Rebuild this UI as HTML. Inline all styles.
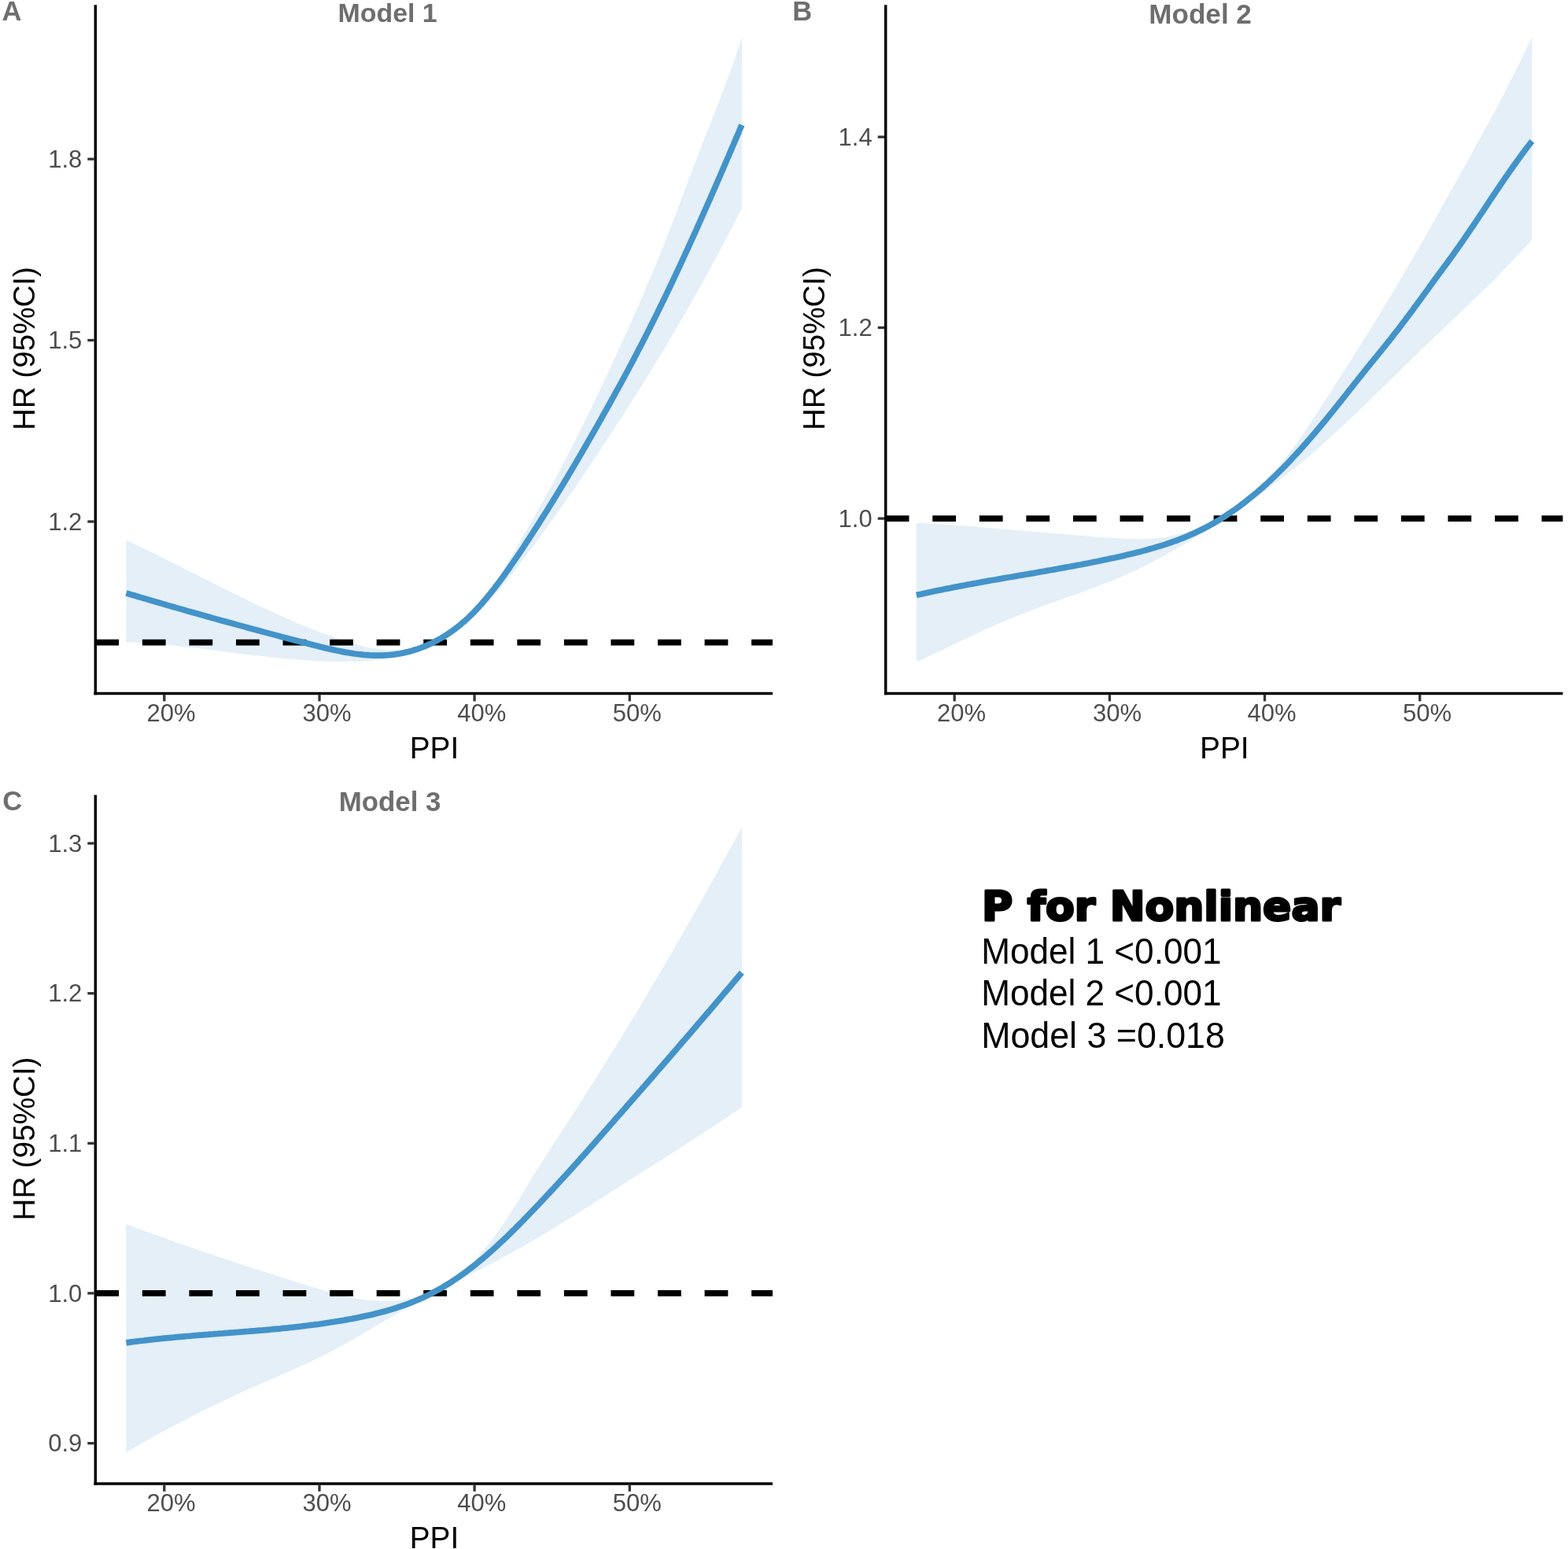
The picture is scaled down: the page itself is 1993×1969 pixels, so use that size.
<!DOCTYPE html>
<html><head><meta charset="utf-8"><title>RCS plots</title>
<style>
html,body{margin:0;padding:0;background:#fff;}
svg{display:block;}
text{font-family:"Liberation Sans",Arial,sans-serif;}
</style></head><body>
<svg xmlns="http://www.w3.org/2000/svg" width="1993" height="1969" viewBox="0 0 1993 1969">
<rect width="1993" height="1969" fill="#fff"/>

<path d="M160.4 686.6 L164.4 688.5 L168.4 690.3 L172.4 692.2 L176.3 694.1 L180.3 696.0 L184.2 697.9 L188.1 699.8 L192.1 701.7 L196.0 703.6 L199.9 705.5 L203.8 707.4 L207.7 709.3 L211.6 711.3 L215.4 713.2 L219.3 715.2 L223.2 717.1 L227.0 719.0 L230.9 721.0 L234.7 722.9 L238.6 724.9 L242.4 726.8 L246.3 728.8 L250.1 730.7 L254.0 732.7 L257.8 734.6 L261.6 736.6 L265.5 738.5 L269.3 740.4 L273.1 742.4 L277.0 744.3 L280.8 746.2 L284.6 748.2 L288.5 750.1 L292.3 752.0 L296.2 753.9 L300.0 755.8 L303.9 757.7 L307.7 759.6 L311.6 761.5 L315.4 763.4 L319.3 765.2 L323.2 767.1 L327.0 769.0 L330.9 770.8 L334.8 772.6 L338.7 774.5 L342.6 776.3 L346.6 778.1 L350.5 779.9 L354.4 781.6 L358.4 783.4 L362.3 785.1 L366.3 786.9 L370.2 788.6 L374.2 790.3 L378.2 792.0 L382.2 793.7 L386.3 795.4 L390.3 797.0 L394.3 798.7 L398.4 800.3 L402.5 801.9 L406.6 803.5 L410.7 805.0 L414.8 806.6 L418.9 808.1 L423.1 809.6 L427.3 811.1 L431.4 812.5 L435.6 814.0 L439.8 815.3 L444.0 816.6 L448.3 817.9 L452.5 819.1 L456.7 820.2 L460.9 821.3 L465.2 822.3 L469.4 823.2 L473.6 823.9 L477.9 824.6 L482.1 825.2 L486.3 825.7 L490.5 826.0 L494.7 826.3 L498.9 826.4 L503.0 826.3 L507.2 826.1 L511.3 825.8 L515.5 825.3 L519.6 824.7 L523.6 823.8 L527.7 822.8 L531.7 821.7 L535.7 820.4 L539.7 819.0 L543.6 817.4 L547.5 815.6 L551.4 813.8 L555.2 811.8 L559.0 809.7 L562.7 807.4 L566.4 805.1 L570.1 802.7 L573.7 800.1 L577.2 797.5 L580.7 794.8 L584.1 792.0 L587.4 789.1 L590.7 786.1 L594.0 783.1 L597.1 780.0 L600.2 776.8 L603.2 773.6 L606.1 770.3 L609.0 767.0 L611.8 763.7 L614.6 760.3 L617.3 756.9 L619.9 753.4 L622.5 749.9 L625.0 746.3 L627.5 742.8 L630.0 739.2 L632.4 735.5 L634.8 731.9 L637.1 728.2 L639.5 724.5 L641.8 720.8 L644.0 717.1 L646.3 713.4 L648.5 709.7 L650.8 705.9 L653.0 702.2 L655.2 698.5 L657.4 694.7 L659.6 691.0 L661.8 687.2 L663.9 683.5 L666.1 679.8 L668.3 676.0 L670.4 672.3 L672.6 668.5 L674.7 664.8 L676.9 661.0 L679.0 657.2 L681.1 653.5 L683.2 649.7 L685.3 645.9 L687.4 642.2 L689.5 638.4 L691.6 634.6 L693.7 630.8 L695.7 627.1 L697.8 623.3 L699.9 619.5 L701.9 615.7 L704.0 611.9 L706.0 608.1 L708.0 604.3 L710.0 600.5 L712.1 596.7 L714.1 592.8 L716.1 589.0 L718.1 585.2 L720.1 581.4 L722.0 577.5 L724.0 573.7 L726.0 569.8 L728.0 566.0 L729.9 562.1 L731.9 558.3 L733.8 554.4 L735.8 550.5 L737.7 546.7 L739.6 542.8 L741.6 538.9 L743.5 535.0 L745.4 531.1 L747.3 527.3 L749.2 523.4 L751.1 519.5 L753.0 515.6 L754.9 511.7 L756.7 507.8 L758.6 503.8 L760.5 499.9 L762.4 496.0 L764.2 492.1 L766.1 488.2 L767.9 484.3 L769.8 480.3 L771.6 476.4 L773.4 472.5 L775.3 468.6 L777.1 464.6 L778.9 460.7 L780.7 456.8 L782.6 452.8 L784.4 448.9 L786.2 444.9 L788.0 441.0 L789.8 437.1 L791.6 433.1 L793.4 429.2 L795.1 425.2 L796.9 421.3 L798.7 417.3 L800.5 413.4 L802.2 409.4 L804.0 405.5 L805.7 401.5 L807.5 397.6 L809.2 393.6 L811.0 389.6 L812.7 385.7 L814.4 381.7 L816.2 377.7 L817.9 373.8 L819.6 369.8 L821.3 365.8 L823.0 361.9 L824.7 357.9 L826.3 353.9 L828.0 349.9 L829.7 345.9 L831.3 341.9 L833.0 337.9 L834.6 333.9 L836.3 329.9 L837.9 325.9 L839.5 321.9 L841.1 317.9 L842.7 313.9 L844.3 309.9 L845.9 305.9 L847.5 301.8 L849.1 297.8 L850.6 293.8 L852.2 289.7 L853.7 285.7 L855.3 281.7 L856.8 277.6 L858.4 273.6 L859.9 269.5 L861.4 265.5 L863.0 261.4 L864.5 257.4 L866.0 253.3 L867.5 249.3 L869.0 245.2 L870.6 241.2 L872.1 237.1 L873.6 233.1 L875.1 229.0 L876.6 225.0 L878.2 220.9 L879.7 216.9 L881.2 212.8 L882.8 208.8 L884.3 204.8 L885.8 200.7 L887.4 196.7 L888.9 192.6 L890.5 188.6 L892.1 184.6 L893.6 180.5 L895.2 176.5 L896.8 172.5 L898.4 168.5 L900.0 164.4 L901.6 160.4 L903.2 156.4 L904.7 152.4 L906.3 148.3 L907.9 144.3 L909.5 140.3 L911.1 136.3 L912.6 132.2 L914.2 128.2 L915.8 124.2 L917.3 120.1 L918.9 116.1 L920.4 112.0 L921.9 108.0 L923.4 103.9 L924.9 99.9 L926.4 95.8 L927.9 91.7 L929.4 87.7 L930.8 83.6 L932.2 79.5 L933.6 75.4 L935.0 71.3 L936.4 67.2 L937.7 63.1 L939.1 58.9 L940.4 54.8 L941.6 50.7 L942.9 46.5 L942.9 264.6 L941.3 267.8 L939.7 271.1 L938.0 274.3 L936.4 277.5 L934.7 280.7 L933.1 284.0 L931.5 287.2 L929.8 290.4 L928.1 293.6 L926.5 296.8 L924.8 300.0 L923.1 303.2 L921.4 306.4 L919.8 309.6 L918.1 312.8 L916.4 316.0 L914.7 319.2 L913.0 322.4 L911.3 325.6 L909.6 328.8 L907.8 332.0 L906.1 335.1 L904.4 338.3 L902.7 341.5 L900.9 344.7 L899.2 347.9 L897.5 351.0 L895.7 354.2 L894.0 357.4 L892.2 360.5 L890.4 363.7 L888.7 366.8 L886.9 370.0 L885.1 373.2 L883.4 376.3 L881.6 379.5 L879.8 382.6 L878.0 385.8 L876.2 388.9 L874.4 392.0 L872.6 395.2 L870.8 398.3 L869.0 401.5 L867.2 404.6 L865.4 407.7 L863.5 410.8 L861.7 414.0 L859.9 417.1 L858.1 420.2 L856.2 423.3 L854.4 426.4 L852.5 429.6 L850.7 432.7 L848.8 435.8 L847.0 438.9 L845.1 442.0 L843.3 445.1 L841.4 448.2 L839.5 451.3 L837.6 454.4 L835.8 457.5 L833.9 460.6 L832.0 463.7 L830.1 466.7 L828.2 469.8 L826.3 472.9 L824.4 476.0 L822.5 479.1 L820.6 482.1 L818.7 485.2 L816.8 488.3 L814.9 491.3 L813.0 494.4 L811.1 497.5 L809.1 500.5 L807.2 503.6 L805.3 506.6 L803.3 509.7 L801.4 512.8 L799.5 515.8 L797.5 518.8 L795.6 521.9 L793.6 524.9 L791.7 528.0 L789.7 531.0 L787.8 534.0 L785.8 537.1 L783.8 540.1 L781.9 543.1 L779.9 546.2 L777.9 549.2 L776.0 552.2 L774.0 555.2 L772.0 558.2 L770.0 561.2 L768.0 564.3 L766.0 567.3 L764.1 570.3 L762.1 573.3 L760.1 576.3 L758.1 579.3 L756.1 582.3 L754.1 585.3 L752.1 588.2 L750.1 591.2 L748.0 594.2 L746.0 597.2 L744.0 600.2 L742.0 603.2 L740.0 606.1 L738.0 609.1 L735.9 612.1 L733.9 615.1 L731.9 618.0 L729.8 621.0 L727.8 624.0 L725.8 626.9 L723.7 629.9 L721.7 632.8 L719.6 635.8 L717.6 638.7 L715.5 641.7 L713.5 644.6 L711.4 647.6 L709.3 650.5 L707.2 653.5 L705.2 656.4 L703.1 659.3 L701.0 662.3 L698.9 665.2 L696.8 668.1 L694.7 671.1 L692.6 674.0 L690.4 676.9 L688.3 679.8 L686.2 682.8 L684.0 685.7 L681.9 688.6 L679.7 691.5 L677.6 694.4 L675.4 697.3 L673.2 700.2 L671.0 703.1 L668.8 706.0 L666.6 708.9 L664.4 711.8 L662.2 714.7 L659.9 717.6 L657.7 720.5 L655.4 723.4 L653.2 726.3 L650.9 729.2 L648.6 732.1 L646.3 735.0 L644.0 737.8 L641.7 740.7 L639.4 743.6 L637.0 746.4 L634.6 749.3 L632.3 752.1 L629.9 754.9 L627.5 757.7 L625.1 760.4 L622.6 763.2 L620.2 765.9 L617.7 768.6 L615.2 771.3 L612.7 773.9 L610.1 776.5 L607.6 779.1 L605.0 781.7 L602.4 784.2 L599.7 786.6 L597.1 789.1 L594.4 791.5 L591.7 793.8 L589.0 796.1 L586.2 798.4 L583.4 800.6 L580.6 802.7 L577.8 804.8 L574.9 806.9 L572.0 808.9 L569.0 810.8 L566.1 812.7 L563.1 814.5 L560.0 816.3 L557.0 818.0 L553.9 819.6 L550.7 821.2 L547.6 822.7 L544.4 824.1 L541.1 825.4 L537.8 826.7 L534.5 827.9 L531.2 829.0 L527.8 830.1 L524.4 831.1 L521.0 832.1 L517.5 832.9 L514.0 833.8 L510.5 834.5 L507.0 835.3 L503.4 835.9 L499.9 836.5 L496.3 837.1 L492.7 837.6 L489.1 838.1 L485.4 838.5 L481.8 838.9 L478.1 839.2 L474.5 839.5 L470.8 839.8 L467.2 840.0 L463.5 840.2 L459.8 840.4 L456.1 840.5 L452.5 840.7 L448.8 840.8 L445.1 840.8 L441.5 840.9 L437.8 840.9 L434.2 840.9 L430.5 840.9 L426.9 840.8 L423.2 840.8 L419.6 840.7 L415.9 840.6 L412.3 840.5 L408.7 840.3 L405.1 840.2 L401.4 840.0 L397.8 839.8 L394.2 839.6 L390.6 839.4 L387.0 839.2 L383.3 838.9 L379.7 838.6 L376.1 838.4 L372.5 838.1 L368.9 837.8 L365.3 837.4 L361.7 837.1 L358.1 836.8 L354.5 836.4 L350.9 836.1 L347.3 835.7 L343.7 835.3 L340.2 834.9 L336.6 834.5 L333.0 834.1 L329.4 833.7 L325.8 833.3 L322.2 832.9 L318.6 832.4 L315.1 832.0 L311.5 831.6 L307.9 831.1 L304.3 830.7 L300.7 830.2 L297.2 829.8 L293.6 829.3 L290.0 828.9 L286.4 828.4 L282.8 828.0 L279.2 827.5 L275.7 827.1 L272.1 826.6 L268.5 826.2 L264.9 825.7 L261.3 825.3 L257.8 824.8 L254.2 824.4 L250.6 824.0 L247.0 823.5 L243.4 823.1 L239.8 822.7 L236.2 822.3 L232.6 821.9 L229.0 821.5 L225.5 821.1 L221.9 820.7 L218.3 820.3 L214.7 820.0 L211.1 819.6 L207.5 819.3 L203.9 818.9 L200.2 818.6 L196.6 818.3 L193.0 818.0 L189.4 817.7 L185.8 817.5 L182.2 817.2 L178.6 817.0 L174.9 816.7 L171.3 816.5 L167.7 816.3 L164.0 816.2 L160.4 816.0 Z" fill="#e4eff8" stroke="none"/>
<line x1="121.3" y1="816.6" x2="982.0" y2="816.6" stroke="#000" stroke-width="7.7" stroke-dasharray="29.78 29.78"/>
<path d="M160.4 753.9 L164.3 755.1 L168.1 756.2 L172.0 757.3 L175.8 758.5 L179.6 759.6 L183.5 760.7 L187.3 761.9 L191.1 763.0 L194.9 764.1 L198.7 765.2 L202.5 766.3 L206.3 767.4 L210.1 768.5 L213.8 769.6 L217.6 770.7 L221.4 771.8 L225.2 772.9 L228.9 773.9 L232.7 775.0 L236.4 776.1 L240.2 777.2 L244.0 778.2 L247.7 779.3 L251.5 780.3 L255.2 781.4 L259.0 782.4 L262.7 783.5 L266.5 784.5 L270.2 785.6 L274.0 786.6 L277.7 787.7 L281.4 788.7 L285.2 789.7 L288.9 790.8 L292.7 791.8 L296.5 792.8 L300.2 793.9 L304.0 794.9 L307.7 795.9 L311.5 796.9 L315.3 798.0 L319.0 799.0 L322.8 800.0 L326.6 801.0 L330.4 802.0 L334.2 803.1 L338.0 804.1 L341.8 805.1 L345.6 806.1 L349.4 807.1 L353.2 808.1 L357.0 809.2 L360.9 810.2 L364.7 811.2 L368.6 812.2 L372.4 813.2 L376.3 814.2 L380.2 815.2 L384.0 816.3 L387.9 817.3 L391.8 818.3 L395.7 819.3 L399.7 820.3 L403.6 821.3 L407.5 822.3 L411.4 823.2 L415.4 824.2 L419.3 825.1 L423.3 825.9 L427.2 826.8 L431.1 827.6 L435.1 828.4 L439.0 829.1 L443.0 829.8 L446.9 830.4 L450.8 831.0 L454.8 831.5 L458.7 831.9 L462.6 832.3 L466.5 832.6 L470.4 832.9 L474.3 833.1 L478.2 833.2 L482.1 833.2 L485.9 833.1 L489.8 832.9 L493.6 832.7 L497.4 832.3 L501.2 831.9 L505.0 831.3 L508.8 830.7 L512.6 830.0 L516.3 829.1 L520.0 828.2 L523.7 827.2 L527.4 826.0 L531.1 824.8 L534.7 823.5 L538.3 822.1 L541.9 820.7 L545.4 819.1 L548.9 817.5 L552.4 815.7 L555.8 813.9 L559.2 812.0 L562.6 810.1 L565.9 808.0 L569.2 805.9 L572.4 803.7 L575.6 801.5 L578.8 799.1 L581.9 796.7 L584.9 794.3 L587.9 791.7 L590.9 789.2 L593.8 786.5 L596.7 783.8 L599.5 781.0 L602.3 778.2 L605.0 775.3 L607.7 772.4 L610.4 769.5 L613.0 766.5 L615.6 763.5 L618.2 760.5 L620.7 757.4 L623.2 754.3 L625.7 751.2 L628.2 748.1 L630.6 744.9 L633.0 741.7 L635.4 738.6 L637.7 735.4 L640.1 732.2 L642.4 728.9 L644.7 725.7 L647.0 722.5 L649.2 719.2 L651.5 715.9 L653.7 712.7 L656.0 709.4 L658.2 706.1 L660.4 702.8 L662.6 699.6 L664.8 696.3 L666.9 693.0 L669.1 689.7 L671.3 686.4 L673.4 683.1 L675.6 679.8 L677.7 676.5 L679.9 673.2 L682.0 669.9 L684.1 666.6 L686.2 663.2 L688.3 659.9 L690.4 656.6 L692.5 653.3 L694.6 649.9 L696.7 646.6 L698.7 643.3 L700.8 639.9 L702.9 636.6 L704.9 633.3 L707.0 629.9 L709.0 626.6 L711.0 623.2 L713.1 619.9 L715.1 616.5 L717.1 613.2 L719.1 609.8 L721.2 606.4 L723.2 603.1 L725.2 599.7 L727.2 596.3 L729.2 592.9 L731.1 589.6 L733.1 586.2 L735.1 582.8 L737.1 579.4 L739.1 576.0 L741.0 572.6 L743.0 569.2 L745.0 565.8 L746.9 562.4 L748.9 559.0 L750.9 555.6 L752.8 552.2 L754.8 548.8 L756.7 545.4 L758.7 542.0 L760.6 538.5 L762.5 535.1 L764.5 531.7 L766.4 528.2 L768.3 524.8 L770.3 521.4 L772.2 517.9 L774.1 514.5 L776.0 511.1 L777.9 507.6 L779.8 504.2 L781.7 500.7 L783.6 497.2 L785.5 493.8 L787.4 490.3 L789.3 486.9 L791.2 483.4 L793.1 479.9 L794.9 476.5 L796.8 473.0 L798.7 469.5 L800.5 466.0 L802.4 462.5 L804.2 459.1 L806.1 455.6 L807.9 452.1 L809.7 448.6 L811.5 445.1 L813.3 441.6 L815.2 438.1 L817.0 434.6 L818.8 431.1 L820.5 427.6 L822.3 424.0 L824.1 420.5 L825.9 417.0 L827.6 413.5 L829.4 410.0 L831.2 406.4 L832.9 402.9 L834.7 399.4 L836.4 395.8 L838.1 392.3 L839.9 388.8 L841.6 385.2 L843.3 381.7 L845.0 378.2 L846.7 374.6 L848.4 371.1 L850.1 367.5 L851.8 364.0 L853.5 360.4 L855.2 356.8 L856.9 353.3 L858.6 349.7 L860.2 346.2 L861.9 342.6 L863.6 339.0 L865.2 335.5 L866.9 331.9 L868.5 328.3 L870.2 324.7 L871.8 321.2 L873.4 317.6 L875.1 314.0 L876.7 310.4 L878.3 306.8 L880.0 303.2 L881.6 299.7 L883.2 296.1 L884.8 292.5 L886.4 288.9 L888.0 285.3 L889.6 281.7 L891.2 278.1 L892.8 274.5 L894.4 270.9 L896.0 267.3 L897.6 263.7 L899.2 260.1 L900.8 256.5 L902.4 252.9 L904.0 249.3 L905.5 245.7 L907.1 242.1 L908.7 238.5 L910.3 234.9 L911.8 231.2 L913.4 227.6 L915.0 224.0 L916.5 220.4 L918.1 216.8 L919.6 213.2 L921.2 209.5 L922.8 205.9 L924.3 202.3 L925.9 198.7 L927.4 195.1 L929.0 191.4 L930.5 187.8 L932.1 184.2 L933.6 180.6 L935.2 176.9 L936.7 173.3 L938.3 169.7 L939.8 166.1 L941.3 162.4 L942.9 158.8" fill="none" stroke="#4393c9" stroke-width="7.7" stroke-linejoin="round"/>
<line x1="121.3" y1="6.2" x2="121.3" y2="883.2" stroke="#000" stroke-width="3.5"/>
<line x1="119.5" y1="881.5" x2="982.0" y2="881.5" stroke="#000" stroke-width="3.5"/>
<line x1="111.3" y1="202.2" x2="119.7" y2="202.2" stroke="#333" stroke-width="3.3"/>
<text x="104.3" y="212.8" font-size="31" fill="#4d4d4d" text-anchor="end">1.8</text>
<line x1="111.3" y1="432.5" x2="119.7" y2="432.5" stroke="#333" stroke-width="3.3"/>
<text x="104.3" y="443.1" font-size="31" fill="#4d4d4d" text-anchor="end">1.5</text>
<line x1="111.3" y1="663.0" x2="119.7" y2="663.0" stroke="#333" stroke-width="3.3"/>
<text x="104.3" y="673.6" font-size="31" fill="#4d4d4d" text-anchor="end">1.2</text>
<line x1="208.8" y1="883.1" x2="208.8" y2="891.4" stroke="#333" stroke-width="3.3"/>
<text x="186.6" y="916.5" font-size="31" fill="#4d4d4d">20%</text>
<line x1="406.0" y1="883.1" x2="406.0" y2="891.4" stroke="#333" stroke-width="3.3"/>
<text x="384.6" y="916.5" font-size="31" fill="#4d4d4d">30%</text>
<line x1="603.1" y1="883.1" x2="603.1" y2="891.4" stroke="#333" stroke-width="3.3"/>
<text x="581.2" y="916.5" font-size="31" fill="#4d4d4d">40%</text>
<line x1="800.3" y1="883.1" x2="800.3" y2="891.4" stroke="#333" stroke-width="3.3"/>
<text x="778.7" y="916.5" font-size="31" fill="#4d4d4d">50%</text>
<text x="551.9" y="963.5" font-size="38.8" fill="#000" text-anchor="middle">PPI</text>
<text transform="translate(43.8,443.1) rotate(-90)" font-size="38.6" fill="#000" text-anchor="middle">HR (95%CI)</text>
<text x="492.6" y="28.0" font-size="33.9" font-weight="bold" fill="#6e6e6e" text-anchor="middle">Model 1</text>
<text x="2.4" y="25.7" font-size="34.5" font-weight="bold" fill="#6e6e6e">A</text>
<path d="M1164.8 664.6 L1168.7 664.8 L1172.4 665.0 L1176.2 665.2 L1180.0 665.4 L1183.8 665.7 L1187.5 665.9 L1191.3 666.1 L1195.1 666.4 L1198.8 666.6 L1202.6 666.9 L1206.3 667.1 L1210.1 667.4 L1213.9 667.6 L1217.6 667.9 L1221.4 668.2 L1225.1 668.5 L1228.9 668.8 L1232.6 669.0 L1236.4 669.3 L1240.1 669.6 L1243.9 669.9 L1247.6 670.2 L1251.4 670.5 L1255.1 670.8 L1258.9 671.2 L1262.6 671.5 L1266.4 671.8 L1270.1 672.1 L1273.9 672.4 L1277.6 672.7 L1281.4 673.1 L1285.1 673.4 L1288.9 673.7 L1292.6 674.0 L1296.4 674.4 L1300.1 674.7 L1303.9 675.0 L1307.6 675.3 L1311.4 675.7 L1315.1 676.0 L1318.9 676.3 L1322.6 676.6 L1326.4 677.0 L1330.1 677.3 L1333.9 677.6 L1337.6 677.9 L1341.4 678.2 L1345.1 678.6 L1348.9 678.9 L1352.6 679.2 L1356.4 679.5 L1360.2 679.8 L1363.9 680.1 L1367.7 680.4 L1371.4 680.7 L1375.2 681.0 L1379.0 681.3 L1382.7 681.6 L1386.5 681.9 L1390.3 682.2 L1394.0 682.4 L1397.8 682.7 L1401.6 683.0 L1405.3 683.2 L1409.1 683.5 L1412.9 683.7 L1416.7 684.0 L1420.5 684.2 L1424.2 684.5 L1428.0 684.7 L1431.8 684.9 L1435.6 685.0 L1439.4 685.2 L1443.1 685.2 L1446.9 685.3 L1450.7 685.3 L1454.5 685.2 L1458.2 685.1 L1462.0 684.9 L1465.7 684.7 L1469.4 684.3 L1473.2 683.9 L1476.9 683.4 L1480.6 682.9 L1484.3 682.2 L1488.0 681.5 L1491.6 680.7 L1495.3 679.9 L1498.9 678.9 L1502.6 677.9 L1506.2 676.9 L1509.8 675.7 L1513.3 674.6 L1516.9 673.3 L1520.4 672.0 L1523.9 670.6 L1527.4 669.1 L1530.8 667.6 L1534.3 666.0 L1537.7 664.4 L1541.0 662.7 L1544.4 661.0 L1547.7 659.2 L1551.0 657.3 L1554.2 655.4 L1557.5 653.5 L1560.6 651.5 L1563.8 649.4 L1566.9 647.3 L1570.0 645.2 L1573.0 643.0 L1576.0 640.8 L1579.0 638.5 L1581.9 636.2 L1584.8 633.8 L1587.7 631.4 L1590.5 629.0 L1593.3 626.5 L1596.0 624.0 L1598.8 621.4 L1601.4 618.9 L1604.1 616.2 L1606.7 613.6 L1609.3 610.9 L1611.9 608.2 L1614.4 605.4 L1616.9 602.7 L1619.4 599.9 L1621.8 597.0 L1624.3 594.2 L1626.7 591.3 L1629.1 588.4 L1631.4 585.5 L1633.7 582.5 L1636.1 579.5 L1638.4 576.5 L1640.6 573.5 L1642.9 570.5 L1645.1 567.4 L1647.3 564.4 L1649.5 561.3 L1651.7 558.2 L1653.9 555.1 L1656.1 552.0 L1658.2 548.8 L1660.3 545.7 L1662.5 542.5 L1664.6 539.4 L1666.7 536.2 L1668.8 533.0 L1670.9 529.9 L1672.9 526.7 L1675.0 523.5 L1677.1 520.3 L1679.1 517.1 L1681.2 513.9 L1683.2 510.7 L1685.3 507.5 L1687.3 504.4 L1689.4 501.2 L1691.4 498.0 L1693.5 494.8 L1695.5 491.6 L1697.6 488.4 L1699.6 485.3 L1701.6 482.1 L1703.7 478.9 L1705.7 475.7 L1707.7 472.5 L1709.7 469.4 L1711.7 466.2 L1713.8 463.0 L1715.8 459.8 L1717.8 456.7 L1719.8 453.5 L1721.8 450.3 L1723.8 447.1 L1725.8 444.0 L1727.8 440.8 L1729.8 437.6 L1731.8 434.4 L1733.8 431.2 L1735.8 428.1 L1737.8 424.9 L1739.7 421.7 L1741.7 418.5 L1743.7 415.3 L1745.7 412.1 L1747.6 408.9 L1749.6 405.7 L1751.6 402.5 L1753.5 399.3 L1755.5 396.1 L1757.4 392.9 L1759.4 389.7 L1761.3 386.5 L1763.3 383.3 L1765.2 380.1 L1767.1 376.9 L1769.1 373.7 L1771.0 370.5 L1772.9 367.2 L1774.8 364.0 L1776.7 360.8 L1778.6 357.5 L1780.6 354.3 L1782.5 351.0 L1784.4 347.8 L1786.3 344.6 L1788.2 341.3 L1790.0 338.1 L1791.9 334.8 L1793.8 331.5 L1795.7 328.3 L1797.6 325.0 L1799.5 321.8 L1801.3 318.5 L1803.2 315.2 L1805.1 312.0 L1806.9 308.7 L1808.8 305.4 L1810.7 302.2 L1812.5 298.9 L1814.4 295.6 L1816.3 292.3 L1818.1 289.0 L1820.0 285.8 L1821.8 282.5 L1823.7 279.2 L1825.5 275.9 L1827.4 272.6 L1829.2 269.3 L1831.0 266.1 L1832.9 262.8 L1834.7 259.5 L1836.6 256.2 L1838.4 252.9 L1840.2 249.6 L1842.1 246.3 L1843.9 243.0 L1845.8 239.7 L1847.6 236.5 L1849.4 233.2 L1851.3 229.9 L1853.1 226.6 L1854.9 223.3 L1856.8 220.0 L1858.6 216.7 L1860.4 213.4 L1862.2 210.1 L1864.1 206.9 L1865.9 203.6 L1867.7 200.3 L1869.5 197.0 L1871.4 193.7 L1873.2 190.4 L1875.0 187.1 L1876.8 183.8 L1878.6 180.5 L1880.5 177.2 L1882.3 174.0 L1884.1 170.7 L1885.9 167.4 L1887.7 164.1 L1889.5 160.8 L1891.3 157.5 L1893.1 154.2 L1894.8 150.8 L1896.6 147.5 L1898.4 144.2 L1900.2 140.9 L1902.0 137.6 L1903.7 134.3 L1905.5 130.9 L1907.2 127.6 L1909.0 124.3 L1910.7 121.0 L1912.5 117.6 L1914.2 114.3 L1915.9 110.9 L1917.6 107.6 L1919.3 104.2 L1921.0 100.9 L1922.7 97.5 L1924.4 94.2 L1926.1 90.8 L1927.8 87.4 L1929.5 84.0 L1931.1 80.6 L1932.8 77.3 L1934.4 73.9 L1936.1 70.5 L1937.7 67.1 L1939.3 63.6 L1940.9 60.2 L1942.5 56.8 L1944.1 53.4 L1945.7 49.9 L1947.3 46.5 L1947.3 304.5 L1945.2 306.9 L1943.0 309.3 L1940.8 311.7 L1938.7 314.1 L1936.5 316.5 L1934.3 318.9 L1932.1 321.2 L1929.9 323.6 L1927.7 326.0 L1925.5 328.3 L1923.3 330.6 L1921.1 333.0 L1918.9 335.3 L1916.6 337.6 L1914.4 339.9 L1912.2 342.2 L1909.9 344.5 L1907.7 346.8 L1905.4 349.1 L1903.1 351.4 L1900.9 353.7 L1898.6 356.0 L1896.3 358.2 L1894.0 360.5 L1891.8 362.8 L1889.5 365.0 L1887.2 367.3 L1884.9 369.5 L1882.6 371.8 L1880.3 374.0 L1878.0 376.3 L1875.7 378.5 L1873.4 380.7 L1871.0 383.0 L1868.7 385.2 L1866.4 387.4 L1864.1 389.7 L1861.8 391.9 L1859.4 394.1 L1857.1 396.3 L1854.8 398.5 L1852.5 400.8 L1850.1 403.0 L1847.8 405.2 L1845.5 407.4 L1843.1 409.6 L1840.8 411.8 L1838.5 414.1 L1836.2 416.3 L1833.8 418.5 L1831.5 420.7 L1829.2 422.9 L1826.8 425.1 L1824.5 427.4 L1822.2 429.6 L1819.9 431.8 L1817.5 434.0 L1815.2 436.2 L1812.9 438.5 L1810.6 440.7 L1808.2 442.9 L1805.9 445.2 L1803.6 447.4 L1801.3 449.6 L1799.0 451.9 L1796.7 454.1 L1794.4 456.4 L1792.1 458.6 L1789.8 460.9 L1787.5 463.1 L1785.2 465.4 L1782.9 467.6 L1780.6 469.9 L1778.3 472.1 L1776.0 474.4 L1773.7 476.7 L1771.4 478.9 L1769.1 481.2 L1766.8 483.4 L1764.5 485.7 L1762.2 487.9 L1759.9 490.2 L1757.6 492.5 L1755.3 494.7 L1753.0 497.0 L1750.7 499.2 L1748.4 501.5 L1746.1 503.7 L1743.8 506.0 L1741.5 508.2 L1739.2 510.5 L1736.9 512.7 L1734.6 514.9 L1732.2 517.2 L1729.9 519.4 L1727.6 521.6 L1725.3 523.9 L1723.0 526.1 L1720.6 528.3 L1718.3 530.5 L1716.0 532.7 L1713.6 534.9 L1711.3 537.1 L1708.9 539.3 L1706.6 541.5 L1704.2 543.7 L1701.9 545.9 L1699.5 548.1 L1697.1 550.3 L1694.8 552.4 L1692.4 554.6 L1690.0 556.8 L1687.6 558.9 L1685.2 561.1 L1682.8 563.2 L1680.4 565.3 L1678.0 567.5 L1675.6 569.6 L1673.2 571.7 L1670.8 573.8 L1668.3 575.9 L1665.9 578.0 L1663.4 580.1 L1661.0 582.1 L1658.5 584.2 L1656.1 586.3 L1653.6 588.3 L1651.1 590.4 L1648.6 592.4 L1646.1 594.4 L1643.6 596.5 L1641.1 598.5 L1638.6 600.5 L1636.1 602.5 L1633.6 604.5 L1631.0 606.4 L1628.5 608.4 L1626.0 610.4 L1623.4 612.3 L1620.9 614.3 L1618.3 616.2 L1615.7 618.2 L1613.2 620.1 L1610.6 622.0 L1608.0 623.9 L1605.4 625.9 L1602.8 627.7 L1600.2 629.6 L1597.6 631.5 L1595.0 633.4 L1592.4 635.3 L1589.7 637.1 L1587.1 639.0 L1584.5 640.8 L1581.8 642.7 L1579.2 644.5 L1576.5 646.3 L1573.9 648.1 L1571.2 650.0 L1568.6 651.8 L1565.9 653.6 L1563.2 655.3 L1560.5 657.1 L1557.8 658.9 L1555.1 660.7 L1552.5 662.4 L1549.7 664.2 L1547.0 665.9 L1544.3 667.7 L1541.6 669.4 L1538.9 671.1 L1536.2 672.8 L1533.4 674.5 L1530.7 676.2 L1528.0 677.9 L1525.2 679.6 L1522.5 681.3 L1519.7 683.0 L1517.0 684.6 L1514.2 686.3 L1511.4 687.9 L1508.7 689.6 L1505.9 691.2 L1503.1 692.9 L1500.3 694.5 L1497.5 696.1 L1494.7 697.7 L1491.9 699.3 L1489.1 700.9 L1486.3 702.5 L1483.5 704.1 L1480.7 705.6 L1477.9 707.2 L1475.1 708.8 L1472.2 710.3 L1469.4 711.8 L1466.6 713.3 L1463.7 714.8 L1460.9 716.3 L1458.0 717.8 L1455.1 719.2 L1452.3 720.7 L1449.4 722.1 L1446.5 723.5 L1443.6 724.9 L1440.7 726.2 L1437.8 727.6 L1434.9 728.9 L1431.9 730.2 L1429.0 731.5 L1426.0 732.8 L1423.1 734.1 L1420.1 735.3 L1417.2 736.5 L1414.2 737.7 L1411.2 738.9 L1408.3 740.1 L1405.3 741.3 L1402.3 742.5 L1399.3 743.6 L1396.3 744.8 L1393.3 745.9 L1390.3 747.1 L1387.3 748.2 L1384.3 749.3 L1381.3 750.4 L1378.3 751.5 L1375.2 752.6 L1372.2 753.7 L1369.2 754.8 L1366.2 755.9 L1363.1 756.9 L1360.1 758.0 L1357.1 759.1 L1354.1 760.2 L1351.0 761.3 L1348.0 762.3 L1345.0 763.4 L1342.0 764.5 L1338.9 765.6 L1335.9 766.6 L1332.9 767.7 L1329.8 768.8 L1326.8 769.9 L1323.8 771.0 L1320.8 772.1 L1317.8 773.2 L1314.7 774.3 L1311.7 775.5 L1308.7 776.6 L1305.7 777.7 L1302.7 778.9 L1299.7 780.0 L1296.7 781.2 L1293.7 782.4 L1290.7 783.6 L1287.8 784.8 L1284.8 786.0 L1281.8 787.2 L1278.8 788.5 L1275.9 789.7 L1272.9 791.0 L1270.0 792.3 L1267.0 793.6 L1264.1 794.9 L1261.1 796.2 L1258.2 797.5 L1255.3 798.8 L1252.3 800.2 L1249.4 801.5 L1246.5 802.9 L1243.6 804.3 L1240.7 805.6 L1237.8 807.0 L1234.8 808.4 L1231.9 809.8 L1229.0 811.2 L1226.1 812.6 L1223.2 814.0 L1220.3 815.4 L1217.4 816.8 L1214.5 818.2 L1211.6 819.6 L1208.7 821.0 L1205.8 822.4 L1202.9 823.8 L1200.0 825.2 L1197.1 826.5 L1194.1 827.9 L1191.2 829.3 L1188.3 830.7 L1185.4 832.0 L1182.5 833.4 L1179.6 834.7 L1176.6 836.1 L1173.7 837.4 L1170.8 838.7 L1167.8 840.0 L1164.8 841.3 Z" fill="#e4eff8" stroke="none"/>
<line x1="1125.7" y1="659.1" x2="1986.4" y2="659.1" stroke="#000" stroke-width="7.7" stroke-dasharray="29.78 29.78"/>
<path d="M1164.8 756.5 L1168.3 755.7 L1171.7 755.0 L1175.1 754.2 L1178.5 753.5 L1181.9 752.8 L1185.3 752.0 L1188.7 751.3 L1192.1 750.6 L1195.5 749.9 L1198.8 749.2 L1202.2 748.5 L1205.6 747.9 L1209.0 747.2 L1212.4 746.5 L1215.8 745.9 L1219.1 745.2 L1222.5 744.6 L1225.9 744.0 L1229.3 743.3 L1232.6 742.7 L1236.0 742.1 L1239.4 741.5 L1242.7 740.9 L1246.1 740.2 L1249.5 739.6 L1252.8 739.0 L1256.2 738.4 L1259.6 737.8 L1262.9 737.3 L1266.3 736.7 L1269.6 736.1 L1273.0 735.5 L1276.4 734.9 L1279.7 734.3 L1283.1 733.8 L1286.4 733.2 L1289.8 732.6 L1293.2 732.0 L1296.5 731.4 L1299.9 730.9 L1303.2 730.3 L1306.6 729.7 L1310.0 729.1 L1313.3 728.6 L1316.7 728.0 L1320.0 727.4 L1323.4 726.8 L1326.8 726.2 L1330.1 725.6 L1333.5 725.0 L1336.8 724.5 L1340.2 723.9 L1343.6 723.3 L1346.9 722.6 L1350.3 722.0 L1353.7 721.4 L1357.0 720.8 L1360.4 720.2 L1363.8 719.6 L1367.1 718.9 L1370.5 718.3 L1373.9 717.7 L1377.2 717.0 L1380.6 716.4 L1384.0 715.7 L1387.4 715.0 L1390.7 714.3 L1394.1 713.7 L1397.5 713.0 L1400.9 712.3 L1404.3 711.6 L1407.6 710.9 L1411.0 710.1 L1414.4 709.4 L1417.8 708.7 L1421.2 707.9 L1424.6 707.2 L1428.0 706.4 L1431.4 705.6 L1434.8 704.8 L1438.1 704.0 L1441.5 703.2 L1444.9 702.3 L1448.3 701.5 L1451.7 700.6 L1455.0 699.7 L1458.4 698.8 L1461.7 697.8 L1465.1 696.9 L1468.4 695.9 L1471.7 694.9 L1475.1 693.9 L1478.4 692.9 L1481.7 691.8 L1484.9 690.7 L1488.2 689.6 L1491.5 688.4 L1494.7 687.3 L1497.9 686.1 L1501.1 684.8 L1504.3 683.6 L1507.5 682.3 L1510.7 681.0 L1513.8 679.6 L1516.9 678.2 L1520.0 676.8 L1523.1 675.3 L1526.2 673.8 L1529.2 672.3 L1532.2 670.7 L1535.3 669.1 L1538.2 667.5 L1541.2 665.8 L1544.1 664.1 L1547.1 662.4 L1550.0 660.7 L1552.9 658.9 L1555.7 657.1 L1558.6 655.2 L1561.4 653.3 L1564.2 651.4 L1567.0 649.5 L1569.8 647.6 L1572.6 645.6 L1575.3 643.6 L1578.0 641.5 L1580.8 639.5 L1583.5 637.4 L1586.1 635.3 L1588.8 633.1 L1591.4 631.0 L1594.1 628.8 L1596.7 626.6 L1599.3 624.4 L1601.9 622.1 L1604.5 619.9 L1607.0 617.6 L1609.6 615.3 L1612.1 613.0 L1614.6 610.6 L1617.1 608.2 L1619.6 605.9 L1622.1 603.5 L1624.5 601.1 L1627.0 598.6 L1629.4 596.2 L1631.9 593.7 L1634.3 591.3 L1636.7 588.8 L1639.1 586.3 L1641.4 583.8 L1643.8 581.2 L1646.2 578.7 L1648.5 576.1 L1650.8 573.6 L1653.2 571.0 L1655.5 568.4 L1657.8 565.8 L1660.1 563.2 L1662.3 560.6 L1664.6 558.0 L1666.9 555.4 L1669.1 552.7 L1671.4 550.1 L1673.6 547.5 L1675.8 544.8 L1678.1 542.1 L1680.3 539.5 L1682.5 536.8 L1684.7 534.2 L1686.9 531.5 L1689.0 528.8 L1691.2 526.1 L1693.4 523.5 L1695.5 520.8 L1697.7 518.1 L1699.8 515.4 L1702.0 512.7 L1704.1 510.1 L1706.2 507.4 L1708.4 504.7 L1710.5 502.0 L1712.6 499.4 L1714.7 496.7 L1716.8 494.0 L1718.9 491.4 L1721.0 488.7 L1723.1 486.0 L1725.2 483.4 L1727.3 480.7 L1729.5 478.1 L1731.6 475.4 L1733.7 472.7 L1735.8 470.1 L1737.9 467.4 L1740.1 464.8 L1742.2 462.1 L1744.4 459.5 L1746.5 456.8 L1748.7 454.2 L1750.9 451.5 L1753.0 448.9 L1755.2 446.2 L1757.3 443.6 L1759.5 440.9 L1761.7 438.2 L1763.8 435.5 L1766.0 432.8 L1768.1 430.2 L1770.2 427.4 L1772.3 424.7 L1774.4 422.0 L1776.6 419.3 L1778.7 416.6 L1780.7 413.8 L1782.8 411.1 L1784.9 408.3 L1787.0 405.6 L1789.0 402.8 L1791.1 400.1 L1793.1 397.3 L1795.2 394.6 L1797.2 391.8 L1799.2 389.0 L1801.3 386.3 L1803.3 383.5 L1805.3 380.7 L1807.3 378.0 L1809.3 375.2 L1811.4 372.4 L1813.4 369.7 L1815.4 366.9 L1817.4 364.1 L1819.4 361.4 L1821.4 358.6 L1823.4 355.9 L1825.4 353.1 L1827.4 350.4 L1829.4 347.6 L1831.5 344.9 L1833.5 342.1 L1835.5 339.4 L1837.5 336.7 L1839.5 333.9 L1841.5 331.2 L1843.5 328.4 L1845.5 325.7 L1847.5 322.9 L1849.5 320.1 L1851.5 317.3 L1853.4 314.6 L1855.4 311.8 L1857.3 309.0 L1859.3 306.2 L1861.2 303.4 L1863.2 300.5 L1865.1 297.7 L1867.0 294.9 L1868.9 292.1 L1870.8 289.2 L1872.8 286.4 L1874.7 283.6 L1876.6 280.7 L1878.5 277.9 L1880.4 275.0 L1882.3 272.2 L1884.2 269.3 L1886.1 266.5 L1888.0 263.6 L1889.9 260.8 L1891.8 257.9 L1893.7 255.0 L1895.6 252.2 L1897.5 249.3 L1899.4 246.5 L1901.3 243.6 L1903.3 240.8 L1905.2 237.9 L1907.1 235.1 L1909.0 232.3 L1911.0 229.4 L1912.9 226.6 L1914.9 223.8 L1916.8 220.9 L1918.8 218.1 L1920.8 215.3 L1922.7 212.5 L1924.7 209.7 L1926.7 206.9 L1928.7 204.1 L1930.8 201.3 L1932.8 198.5 L1934.8 195.7 L1936.9 193.0 L1938.9 190.2 L1941.0 187.5 L1943.1 184.7 L1945.2 182.0 L1947.3 179.3" fill="none" stroke="#4393c9" stroke-width="7.7" stroke-linejoin="round"/>
<line x1="1125.7" y1="6.2" x2="1125.7" y2="883.2" stroke="#000" stroke-width="3.5"/>
<line x1="1124.0" y1="881.5" x2="1986.4" y2="881.5" stroke="#000" stroke-width="3.5"/>
<line x1="1115.7" y1="174.1" x2="1124.1" y2="174.1" stroke="#333" stroke-width="3.3"/>
<text x="1108.7" y="184.7" font-size="31" fill="#4d4d4d" text-anchor="end">1.4</text>
<line x1="1115.7" y1="416.5" x2="1124.1" y2="416.5" stroke="#333" stroke-width="3.3"/>
<text x="1108.7" y="427.1" font-size="31" fill="#4d4d4d" text-anchor="end">1.2</text>
<line x1="1115.7" y1="659.1" x2="1124.1" y2="659.1" stroke="#333" stroke-width="3.3"/>
<text x="1108.7" y="669.7" font-size="31" fill="#4d4d4d" text-anchor="end">1.0</text>
<line x1="1213.2" y1="883.1" x2="1213.2" y2="891.4" stroke="#333" stroke-width="3.3"/>
<text x="1191.0" y="916.5" font-size="31" fill="#4d4d4d">20%</text>
<line x1="1410.4" y1="883.1" x2="1410.4" y2="891.4" stroke="#333" stroke-width="3.3"/>
<text x="1389.0" y="916.5" font-size="31" fill="#4d4d4d">30%</text>
<line x1="1607.5" y1="883.1" x2="1607.5" y2="891.4" stroke="#333" stroke-width="3.3"/>
<text x="1585.6" y="916.5" font-size="31" fill="#4d4d4d">40%</text>
<line x1="1804.7" y1="883.1" x2="1804.7" y2="891.4" stroke="#333" stroke-width="3.3"/>
<text x="1783.1" y="916.5" font-size="31" fill="#4d4d4d">50%</text>
<text x="1556.3" y="963.5" font-size="38.8" fill="#000" text-anchor="middle">PPI</text>
<text transform="translate(1048.2,443.1) rotate(-90)" font-size="38.6" fill="#000" text-anchor="middle">HR (95%CI)</text>
<text x="1525.6" y="29.9" font-size="35.1" font-weight="bold" fill="#6e6e6e" text-anchor="middle">Model 2</text>
<text x="1007.3" y="25.7" font-size="34.5" font-weight="bold" fill="#6e6e6e">B</text>
<path d="M160.4 1555.9 L164.0 1557.2 L167.5 1558.6 L171.1 1559.9 L174.6 1561.2 L178.2 1562.5 L181.7 1563.9 L185.3 1565.2 L188.8 1566.5 L192.4 1567.8 L195.9 1569.0 L199.4 1570.3 L203.0 1571.6 L206.5 1572.9 L210.1 1574.1 L213.6 1575.4 L217.1 1576.7 L220.7 1577.9 L224.2 1579.2 L227.7 1580.4 L231.3 1581.7 L234.8 1582.9 L238.3 1584.1 L241.8 1585.4 L245.4 1586.6 L248.9 1587.8 L252.4 1589.0 L256.0 1590.2 L259.5 1591.4 L263.0 1592.6 L266.6 1593.8 L270.1 1595.0 L273.6 1596.2 L277.2 1597.4 L280.7 1598.6 L284.2 1599.8 L287.8 1601.0 L291.3 1602.1 L294.8 1603.3 L298.4 1604.5 L301.9 1605.7 L305.5 1606.8 L309.0 1608.0 L312.6 1609.2 L316.1 1610.3 L319.7 1611.5 L323.2 1612.6 L326.8 1613.8 L330.4 1614.9 L333.9 1616.1 L337.5 1617.2 L341.1 1618.4 L344.6 1619.5 L348.2 1620.6 L351.8 1621.8 L355.4 1622.9 L359.0 1624.1 L362.5 1625.2 L366.1 1626.3 L369.7 1627.5 L373.3 1628.6 L376.9 1629.7 L380.5 1630.9 L384.2 1632.0 L387.8 1633.1 L391.4 1634.2 L395.0 1635.4 L398.7 1636.5 L402.3 1637.6 L405.9 1638.7 L409.6 1639.8 L413.2 1640.9 L416.9 1641.9 L420.5 1642.9 L424.2 1643.9 L427.9 1644.9 L431.6 1645.8 L435.2 1646.7 L438.9 1647.6 L442.6 1648.4 L446.3 1649.2 L450.0 1649.9 L453.7 1650.6 L457.4 1651.2 L461.1 1651.7 L464.9 1652.2 L468.6 1652.6 L472.3 1653.0 L476.1 1653.3 L479.8 1653.5 L483.6 1653.7 L487.3 1653.7 L491.0 1653.7 L494.8 1653.6 L498.5 1653.5 L502.2 1653.2 L505.9 1652.9 L509.6 1652.4 L513.2 1651.9 L516.9 1651.3 L520.5 1650.6 L524.1 1649.8 L527.7 1648.9 L531.3 1647.9 L534.8 1646.8 L538.4 1645.6 L541.8 1644.3 L545.3 1642.9 L548.7 1641.4 L552.1 1639.8 L555.4 1638.1 L558.8 1636.3 L562.0 1634.5 L565.3 1632.5 L568.4 1630.5 L571.6 1628.4 L574.7 1626.3 L577.7 1624.1 L580.7 1621.8 L583.7 1619.5 L586.6 1617.2 L589.4 1614.7 L592.2 1612.3 L595.0 1609.8 L597.7 1607.2 L600.4 1604.6 L603.0 1602.0 L605.6 1599.3 L608.1 1596.6 L610.6 1593.8 L613.1 1591.0 L615.5 1588.2 L617.9 1585.3 L620.3 1582.4 L622.6 1579.5 L624.9 1576.6 L627.2 1573.6 L629.4 1570.6 L631.6 1567.5 L633.8 1564.5 L636.0 1561.4 L638.1 1558.3 L640.2 1555.2 L642.3 1552.0 L644.4 1548.9 L646.5 1545.7 L648.5 1542.5 L650.6 1539.3 L652.6 1536.1 L654.6 1532.9 L656.6 1529.7 L658.6 1526.5 L660.6 1523.2 L662.5 1520.0 L664.5 1516.7 L666.5 1513.5 L668.4 1510.3 L670.4 1507.0 L672.3 1503.8 L674.3 1500.6 L676.2 1497.3 L678.2 1494.1 L680.2 1490.9 L682.1 1487.7 L684.1 1484.5 L686.1 1481.4 L688.1 1478.2 L690.1 1475.0 L692.1 1471.9 L694.1 1468.7 L696.1 1465.6 L698.1 1462.5 L700.1 1459.4 L702.1 1456.2 L704.1 1453.1 L706.1 1450.0 L708.2 1446.9 L710.2 1443.8 L712.2 1440.7 L714.2 1437.6 L716.3 1434.5 L718.3 1431.4 L720.3 1428.3 L722.3 1425.2 L724.3 1422.1 L726.4 1419.0 L728.4 1415.9 L730.4 1412.8 L732.4 1409.7 L734.4 1406.6 L736.4 1403.4 L738.4 1400.3 L740.5 1397.2 L742.5 1394.1 L744.5 1390.9 L746.5 1387.8 L748.5 1384.7 L750.5 1381.5 L752.5 1378.4 L754.5 1375.2 L756.4 1372.1 L758.4 1368.9 L760.4 1365.8 L762.4 1362.6 L764.4 1359.5 L766.4 1356.3 L768.4 1353.1 L770.3 1350.0 L772.3 1346.8 L774.3 1343.6 L776.3 1340.5 L778.2 1337.3 L780.2 1334.1 L782.2 1330.9 L784.1 1327.7 L786.1 1324.6 L788.0 1321.4 L790.0 1318.2 L791.9 1315.0 L793.9 1311.8 L795.9 1308.6 L797.8 1305.4 L799.7 1302.2 L801.7 1299.0 L803.6 1295.8 L805.6 1292.6 L807.5 1289.4 L809.5 1286.1 L811.4 1282.9 L813.3 1279.7 L815.2 1276.5 L817.2 1273.3 L819.1 1270.1 L821.0 1266.8 L822.9 1263.6 L824.9 1260.4 L826.8 1257.1 L828.7 1253.9 L830.6 1250.7 L832.5 1247.4 L834.4 1244.2 L836.3 1241.0 L838.2 1237.7 L840.1 1234.5 L842.0 1231.2 L843.9 1228.0 L845.8 1224.7 L847.7 1221.5 L849.6 1218.2 L851.5 1215.0 L853.4 1211.7 L855.3 1208.5 L857.2 1205.2 L859.0 1202.0 L860.9 1198.7 L862.8 1195.5 L864.7 1192.2 L866.5 1188.9 L868.4 1185.7 L870.3 1182.4 L872.1 1179.1 L874.0 1175.9 L875.8 1172.6 L877.7 1169.3 L879.5 1166.0 L881.4 1162.8 L883.2 1159.5 L885.1 1156.2 L886.9 1153.0 L888.8 1149.7 L890.6 1146.4 L892.5 1143.1 L894.3 1139.8 L896.1 1136.6 L898.0 1133.3 L899.8 1130.0 L901.6 1126.7 L903.4 1123.4 L905.3 1120.1 L907.1 1116.9 L908.9 1113.6 L910.7 1110.3 L912.5 1107.0 L914.3 1103.7 L916.1 1100.4 L917.9 1097.1 L919.7 1093.8 L921.5 1090.5 L923.3 1087.2 L925.1 1084.0 L926.9 1080.7 L928.7 1077.4 L930.5 1074.1 L932.3 1070.8 L934.0 1067.5 L935.8 1064.2 L937.6 1060.9 L939.4 1057.6 L941.1 1054.3 L942.9 1051.0 L942.9 1407.3 L940.4 1409.0 L937.9 1410.7 L935.5 1412.4 L933.0 1414.1 L930.5 1415.8 L928.0 1417.5 L925.5 1419.2 L923.0 1420.9 L920.5 1422.5 L918.0 1424.2 L915.5 1425.9 L913.0 1427.6 L910.5 1429.2 L908.0 1430.9 L905.5 1432.5 L903.0 1434.2 L900.5 1435.8 L898.0 1437.5 L895.5 1439.1 L892.9 1440.8 L890.4 1442.4 L887.9 1444.1 L885.4 1445.7 L882.8 1447.3 L880.3 1449.0 L877.8 1450.6 L875.3 1452.2 L872.7 1453.8 L870.2 1455.5 L867.7 1457.1 L865.2 1458.7 L862.6 1460.3 L860.1 1462.0 L857.6 1463.6 L855.0 1465.2 L852.5 1466.8 L849.9 1468.4 L847.4 1470.0 L844.9 1471.6 L842.3 1473.3 L839.8 1474.9 L837.3 1476.5 L834.7 1478.1 L832.2 1479.7 L829.7 1481.3 L827.1 1482.9 L824.6 1484.5 L822.0 1486.1 L819.5 1487.8 L817.0 1489.4 L814.4 1491.0 L811.9 1492.6 L809.4 1494.2 L806.8 1495.8 L804.3 1497.4 L801.8 1499.1 L799.2 1500.7 L796.7 1502.3 L794.2 1503.9 L791.6 1505.5 L789.1 1507.2 L786.6 1508.8 L784.1 1510.4 L781.5 1512.0 L779.0 1513.6 L776.5 1515.3 L773.9 1516.9 L771.4 1518.5 L768.9 1520.1 L766.4 1521.8 L763.8 1523.4 L761.3 1525.0 L758.8 1526.6 L756.2 1528.2 L753.7 1529.9 L751.2 1531.5 L748.6 1533.1 L746.1 1534.7 L743.6 1536.3 L741.0 1537.9 L738.5 1539.5 L736.0 1541.1 L733.4 1542.7 L730.9 1544.3 L728.4 1545.9 L725.8 1547.5 L723.3 1549.1 L720.7 1550.7 L718.2 1552.3 L715.6 1553.9 L713.1 1555.4 L710.5 1557.0 L708.0 1558.6 L705.4 1560.2 L702.8 1561.7 L700.3 1563.3 L697.7 1564.8 L695.1 1566.4 L692.6 1567.9 L690.0 1569.5 L687.4 1571.0 L684.9 1572.5 L682.3 1574.1 L679.7 1575.6 L677.1 1577.1 L674.5 1578.6 L671.9 1580.1 L669.3 1581.6 L666.7 1583.1 L664.1 1584.6 L661.5 1586.1 L658.9 1587.5 L656.3 1589.0 L653.7 1590.5 L651.0 1591.9 L648.4 1593.4 L645.8 1594.8 L643.1 1596.2 L640.5 1597.7 L637.9 1599.1 L635.2 1600.5 L632.6 1601.9 L629.9 1603.3 L627.3 1604.7 L624.6 1606.1 L622.0 1607.5 L619.3 1608.9 L616.7 1610.3 L614.0 1611.7 L611.3 1613.1 L608.7 1614.5 L606.0 1615.8 L603.3 1617.2 L600.7 1618.6 L598.0 1620.0 L595.3 1621.3 L592.7 1622.7 L590.0 1624.1 L587.3 1625.5 L584.7 1626.8 L582.0 1628.2 L579.3 1629.6 L576.6 1631.0 L574.0 1632.3 L571.3 1633.7 L568.6 1635.1 L566.0 1636.5 L563.3 1637.8 L560.6 1639.2 L558.0 1640.6 L555.3 1642.0 L552.7 1643.4 L550.0 1644.8 L547.3 1646.2 L544.7 1647.6 L542.0 1649.0 L539.4 1650.4 L536.7 1651.9 L534.1 1653.3 L531.5 1654.7 L528.8 1656.2 L526.2 1657.6 L523.6 1659.1 L520.9 1660.5 L518.3 1662.0 L515.7 1663.4 L513.1 1664.9 L510.5 1666.4 L507.8 1667.9 L505.2 1669.4 L502.6 1670.9 L500.0 1672.4 L497.4 1673.9 L494.8 1675.4 L492.2 1677.0 L489.7 1678.5 L487.1 1680.0 L484.5 1681.5 L481.9 1683.1 L479.3 1684.6 L476.7 1686.1 L474.1 1687.7 L471.5 1689.2 L469.0 1690.7 L466.4 1692.2 L463.8 1693.8 L461.2 1695.3 L458.6 1696.8 L456.0 1698.3 L453.4 1699.8 L450.8 1701.3 L448.2 1702.8 L445.6 1704.3 L443.0 1705.8 L440.4 1707.3 L437.7 1708.7 L435.1 1710.2 L432.5 1711.6 L429.9 1713.1 L427.2 1714.5 L424.6 1715.9 L421.9 1717.3 L419.3 1718.7 L416.6 1720.1 L413.9 1721.5 L411.3 1722.8 L408.6 1724.2 L405.9 1725.5 L403.2 1726.8 L400.5 1728.2 L397.8 1729.4 L395.1 1730.7 L392.4 1732.0 L389.7 1733.3 L386.9 1734.5 L384.2 1735.8 L381.5 1737.0 L378.7 1738.3 L376.0 1739.5 L373.3 1740.7 L370.5 1742.0 L367.8 1743.2 L365.0 1744.4 L362.3 1745.6 L359.5 1746.8 L356.8 1748.0 L354.0 1749.2 L351.2 1750.4 L348.5 1751.6 L345.7 1752.8 L343.0 1754.0 L340.2 1755.2 L337.5 1756.4 L334.7 1757.6 L331.9 1758.8 L329.2 1760.0 L326.4 1761.2 L323.7 1762.5 L320.9 1763.7 L318.2 1764.9 L315.4 1766.1 L312.7 1767.4 L309.9 1768.6 L307.2 1769.8 L304.5 1771.1 L301.7 1772.3 L299.0 1773.6 L296.3 1774.9 L293.6 1776.1 L290.8 1777.4 L288.1 1778.7 L285.4 1780.0 L282.7 1781.2 L280.0 1782.5 L277.2 1783.8 L274.5 1785.1 L271.8 1786.5 L269.1 1787.8 L266.4 1789.1 L263.7 1790.4 L261.0 1791.7 L258.3 1793.1 L255.6 1794.4 L252.9 1795.8 L250.3 1797.1 L247.6 1798.5 L244.9 1799.8 L242.2 1801.2 L239.5 1802.6 L236.9 1803.9 L234.2 1805.3 L231.5 1806.7 L228.8 1808.1 L226.2 1809.5 L223.5 1810.9 L220.9 1812.3 L218.2 1813.7 L215.6 1815.1 L212.9 1816.5 L210.2 1818.0 L207.6 1819.4 L205.0 1820.8 L202.3 1822.3 L199.7 1823.7 L197.0 1825.2 L194.4 1826.6 L191.8 1828.1 L189.1 1829.5 L186.5 1831.0 L183.9 1832.5 L181.3 1834.0 L178.7 1835.5 L176.0 1837.0 L173.4 1838.4 L170.8 1839.9 L168.2 1841.5 L165.6 1843.0 L163.0 1844.5 L160.4 1846.0 Z" fill="#e4eff8" stroke="none"/>
<line x1="121.3" y1="1643.9" x2="982.0" y2="1643.9" stroke="#000" stroke-width="7.7" stroke-dasharray="29.78 29.78"/>
<path d="M160.4 1706.8 L163.6 1706.4 L166.8 1705.9 L170.0 1705.5 L173.2 1705.1 L176.4 1704.7 L179.6 1704.3 L182.8 1704.0 L186.0 1703.6 L189.2 1703.2 L192.4 1702.9 L195.6 1702.5 L198.8 1702.2 L202.0 1701.8 L205.2 1701.5 L208.4 1701.2 L211.7 1700.9 L214.9 1700.6 L218.1 1700.3 L221.3 1700.0 L224.5 1699.7 L227.7 1699.4 L231.0 1699.1 L234.2 1698.8 L237.4 1698.5 L240.6 1698.3 L243.8 1698.0 L247.1 1697.7 L250.3 1697.5 L253.5 1697.2 L256.7 1697.0 L260.0 1696.7 L263.2 1696.5 L266.4 1696.2 L269.6 1696.0 L272.9 1695.7 L276.1 1695.5 L279.3 1695.2 L282.6 1695.0 L285.8 1694.7 L289.0 1694.5 L292.2 1694.2 L295.5 1694.0 L298.7 1693.7 L301.9 1693.5 L305.2 1693.2 L308.4 1693.0 L311.6 1692.7 L314.8 1692.5 L318.1 1692.2 L321.3 1691.9 L324.5 1691.7 L327.7 1691.4 L331.0 1691.1 L334.2 1690.9 L337.4 1690.6 L340.6 1690.3 L343.9 1690.0 L347.1 1689.7 L350.3 1689.4 L353.5 1689.1 L356.8 1688.8 L360.0 1688.4 L363.2 1688.1 L366.4 1687.8 L369.6 1687.4 L372.9 1687.1 L376.1 1686.7 L379.3 1686.4 L382.5 1686.0 L385.7 1685.6 L388.9 1685.2 L392.2 1684.8 L395.4 1684.4 L398.6 1684.0 L401.8 1683.6 L405.0 1683.2 L408.2 1682.7 L411.4 1682.3 L414.6 1681.8 L417.8 1681.3 L421.0 1680.8 L424.2 1680.3 L427.4 1679.8 L430.6 1679.3 L433.8 1678.7 L437.0 1678.2 L440.2 1677.6 L443.4 1677.0 L446.6 1676.5 L449.7 1675.9 L452.9 1675.2 L456.1 1674.6 L459.3 1673.9 L462.4 1673.3 L465.6 1672.6 L468.8 1671.9 L471.9 1671.2 L475.1 1670.4 L478.2 1669.6 L481.3 1668.9 L484.5 1668.0 L487.6 1667.2 L490.7 1666.4 L493.8 1665.5 L496.9 1664.6 L500.0 1663.6 L503.0 1662.7 L506.1 1661.7 L509.1 1660.7 L512.1 1659.7 L515.2 1658.6 L518.2 1657.5 L521.2 1656.4 L524.1 1655.2 L527.1 1654.0 L530.0 1652.8 L533.0 1651.5 L535.9 1650.2 L538.8 1648.9 L541.7 1647.5 L544.5 1646.1 L547.4 1644.7 L550.2 1643.2 L553.0 1641.7 L555.8 1640.2 L558.6 1638.7 L561.4 1637.1 L564.1 1635.4 L566.8 1633.8 L569.6 1632.1 L572.3 1630.4 L575.0 1628.7 L577.6 1626.9 L580.3 1625.1 L582.9 1623.3 L585.6 1621.4 L588.2 1619.6 L590.8 1617.7 L593.4 1615.8 L596.0 1613.8 L598.5 1611.9 L601.1 1609.9 L603.6 1607.9 L606.1 1605.9 L608.6 1603.8 L611.1 1601.7 L613.6 1599.7 L616.1 1597.6 L618.6 1595.5 L621.0 1593.3 L623.5 1591.2 L625.9 1589.0 L628.3 1586.8 L630.7 1584.7 L633.1 1582.4 L635.5 1580.2 L637.9 1578.0 L640.3 1575.8 L642.6 1573.5 L645.0 1571.3 L647.3 1569.0 L649.6 1566.7 L652.0 1564.4 L654.3 1562.1 L656.6 1559.8 L658.9 1557.5 L661.2 1555.2 L663.5 1552.9 L665.7 1550.6 L668.0 1548.2 L670.3 1545.9 L672.5 1543.6 L674.8 1541.2 L677.0 1538.9 L679.2 1536.6 L681.5 1534.2 L683.7 1531.9 L685.9 1529.6 L688.1 1527.2 L690.3 1524.9 L692.5 1522.5 L694.7 1520.2 L696.9 1517.8 L699.1 1515.5 L701.3 1513.1 L703.4 1510.8 L705.6 1508.4 L707.8 1506.1 L710.0 1503.7 L712.1 1501.4 L714.3 1499.0 L716.4 1496.6 L718.6 1494.3 L720.8 1491.9 L722.9 1489.5 L725.1 1487.1 L727.2 1484.8 L729.4 1482.4 L731.5 1480.0 L733.7 1477.6 L735.8 1475.2 L737.9 1472.8 L740.1 1470.4 L742.2 1468.0 L744.4 1465.6 L746.5 1463.2 L748.6 1460.8 L750.8 1458.4 L752.9 1456.0 L755.0 1453.6 L757.2 1451.2 L759.3 1448.8 L761.4 1446.4 L763.6 1443.9 L765.7 1441.5 L767.8 1439.1 L770.0 1436.7 L772.1 1434.3 L774.2 1431.8 L776.3 1429.4 L778.5 1427.0 L780.6 1424.6 L782.7 1422.1 L784.8 1419.7 L787.0 1417.3 L789.1 1414.9 L791.2 1412.4 L793.4 1410.0 L795.5 1407.6 L797.6 1405.1 L799.7 1402.7 L801.9 1400.3 L804.0 1397.8 L806.1 1395.4 L808.2 1393.0 L810.4 1390.6 L812.5 1388.1 L814.6 1385.7 L816.7 1383.2 L818.9 1380.8 L821.0 1378.4 L823.1 1375.9 L825.2 1373.5 L827.3 1371.1 L829.5 1368.6 L831.6 1366.2 L833.7 1363.7 L835.8 1361.3 L837.9 1358.9 L840.1 1356.4 L842.2 1354.0 L844.3 1351.5 L846.4 1349.1 L848.5 1346.7 L850.6 1344.2 L852.8 1341.8 L854.9 1339.3 L857.0 1336.9 L859.1 1334.4 L861.2 1332.0 L863.3 1329.5 L865.4 1327.1 L867.5 1324.6 L869.7 1322.2 L871.8 1319.8 L873.9 1317.3 L876.0 1314.9 L878.1 1312.4 L880.2 1310.0 L882.3 1307.5 L884.4 1305.1 L886.5 1302.6 L888.6 1300.1 L890.7 1297.7 L892.8 1295.2 L894.9 1292.8 L897.0 1290.3 L899.1 1287.9 L901.2 1285.4 L903.3 1283.0 L905.4 1280.5 L907.5 1278.0 L909.6 1275.6 L911.7 1273.1 L913.8 1270.7 L915.8 1268.2 L917.9 1265.8 L920.0 1263.3 L922.1 1260.8 L924.2 1258.4 L926.3 1255.9 L928.4 1253.4 L930.4 1251.0 L932.5 1248.5 L934.6 1246.1 L936.7 1243.6 L938.7 1241.1 L940.8 1238.7 L942.9 1236.2" fill="none" stroke="#4393c9" stroke-width="7.7" stroke-linejoin="round"/>
<line x1="121.3" y1="1010.6" x2="121.3" y2="1887.7" stroke="#000" stroke-width="3.5"/>
<line x1="119.5" y1="1885.9" x2="982.0" y2="1885.9" stroke="#000" stroke-width="3.5"/>
<line x1="111.3" y1="1072.0" x2="119.7" y2="1072.0" stroke="#333" stroke-width="3.3"/>
<text x="104.3" y="1082.6" font-size="31" fill="#4d4d4d" text-anchor="end">1.3</text>
<line x1="111.3" y1="1262.7" x2="119.7" y2="1262.7" stroke="#333" stroke-width="3.3"/>
<text x="104.3" y="1273.2" font-size="31" fill="#4d4d4d" text-anchor="end">1.2</text>
<line x1="111.3" y1="1453.3" x2="119.7" y2="1453.3" stroke="#333" stroke-width="3.3"/>
<text x="104.3" y="1463.9" font-size="31" fill="#4d4d4d" text-anchor="end">1.1</text>
<line x1="111.3" y1="1643.9" x2="119.7" y2="1643.9" stroke="#333" stroke-width="3.3"/>
<text x="104.3" y="1654.5" font-size="31" fill="#4d4d4d" text-anchor="end">1.0</text>
<line x1="111.3" y1="1834.6" x2="119.7" y2="1834.6" stroke="#333" stroke-width="3.3"/>
<text x="104.3" y="1845.2" font-size="31" fill="#4d4d4d" text-anchor="end">0.9</text>
<line x1="208.8" y1="1887.5" x2="208.8" y2="1895.8" stroke="#333" stroke-width="3.3"/>
<text x="186.6" y="1921.3" font-size="31" fill="#4d4d4d">20%</text>
<line x1="406.0" y1="1887.5" x2="406.0" y2="1895.8" stroke="#333" stroke-width="3.3"/>
<text x="384.6" y="1921.3" font-size="31" fill="#4d4d4d">30%</text>
<line x1="603.1" y1="1887.5" x2="603.1" y2="1895.8" stroke="#333" stroke-width="3.3"/>
<text x="581.2" y="1921.3" font-size="31" fill="#4d4d4d">40%</text>
<line x1="800.3" y1="1887.5" x2="800.3" y2="1895.8" stroke="#333" stroke-width="3.3"/>
<text x="778.7" y="1921.3" font-size="31" fill="#4d4d4d">50%</text>
<text x="551.9" y="1967.9" font-size="38.8" fill="#000" text-anchor="middle">PPI</text>
<text transform="translate(43.8,1447.5) rotate(-90)" font-size="38.6" fill="#000" text-anchor="middle">HR (95%CI)</text>
<text x="495.6" y="1030.8" font-size="34.9" font-weight="bold" fill="#6e6e6e" text-anchor="middle">Model 3</text>
<text x="3.3" y="1029.5" font-size="34.5" font-weight="bold" fill="#6e6e6e">C</text>
<text x="1247.9" y="1169.6" font-size="52" font-weight="bold" fill="#000" stroke="#000" stroke-width="3" stroke-linejoin="round" textLength="456" lengthAdjust="spacingAndGlyphs" style="font-family:'DejaVu Sans',sans-serif">P for Nonlinear</text>
<text x="1247.2" y="1225.0" font-size="46.5" fill="#000" textLength="305.3" lengthAdjust="spacingAndGlyphs">Model 1 &lt;0.001</text>
<text x="1247.2" y="1277.9" font-size="46.5" fill="#000" textLength="305.3" lengthAdjust="spacingAndGlyphs">Model 2 &lt;0.001</text>
<text x="1247.2" y="1331.7" font-size="46.5" fill="#000" textLength="309.7" lengthAdjust="spacingAndGlyphs">Model 3 =0.018</text>
</svg>
</body></html>
